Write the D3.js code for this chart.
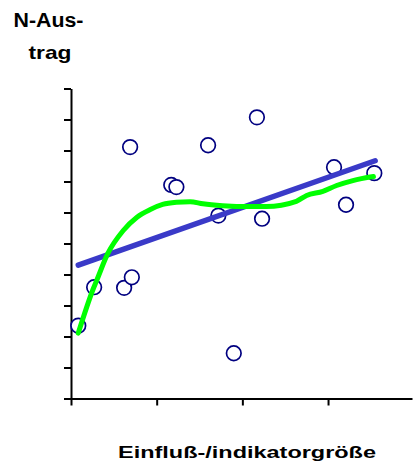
<!DOCTYPE html>
<html>
<head>
<meta charset="utf-8">
<script src="https://cdn.jsdelivr.net/npm/d3@7"></script>
<style>
  body { margin: 0; background: #fff; }
  svg { display: block; font-family: "Liberation Sans", Arial, sans-serif; }
</style>
</head>
<body>
<div class="chart"></div>
<script>
// scatter points (Einfluß-/Indikatorgröße vs. N-Austrag)
var pointX = [0.085, 0.27, 0.62, 0.71, 0.69, 1.17, 1.23, 1.60, 1.72, 1.90, 2.17, 2.23, 3.07, 3.21, 3.54];
var pointY = [2.35, 3.59, 3.57, 3.91, 8.11, 6.89, 6.82, 8.17, 5.90, 1.46, 9.07, 5.80, 7.46, 6.25, 7.27];

// linear regression line (end points)
var lineX = [0.085, 3.55];
var lineY = [4.30, 7.67];

// smoothed curve
var curveX = [0.085, 0.26, 0.30, 0.43, 0.61, 0.77, 0.92, 1.07, 1.23, 1.39, 1.54, 1.77, 2.09, 2.28, 2.63, 2.75, 2.94, 3.10, 3.29, 3.53];
var curveY = [2.11, 3.54, 3.81, 4.68, 5.42, 5.85, 6.09, 6.26, 6.33, 6.35, 6.28, 6.22, 6.19, 6.19, 6.36, 6.55, 6.68, 6.87, 7.03, 7.16];

var xTicks = [0, 1, 2, 3];
var yTicks = [0, 1, 2, 3, 4, 5, 6, 7, 8, 9, 10];

var width = 413,
    height = 466;

var x = d3.scaleLinear()
    .domain([0, 3.98])
    .range([71, 412]);

var y = d3.scaleLinear()
    .domain([0, 10])
    .range([398.5, 88.5]);

var svg = d3.select(".chart")
    .append("svg")
    .attr("width", width)
    .attr("height", height);

// axes
svg.append("g")
    .attr("transform", "translate(0," + y(0) + ")")
    .call(d3.axisBottom(x).tickValues(xTicks).tickSize(7).tickSizeOuter(0).tickFormat(""));

svg.append("g")
    .attr("transform", "translate(" + x(0) + ",0)")
    .call(d3.axisLeft(y).tickValues(yTicks).tickSize(7).tickSizeOuter(0).tickFormat(""));

svg.selectAll(".domain, .tick line")
    .attr("stroke", "#000")
    .attr("stroke-width", 2);

// points
var points = pointX.map(function(d, i) { return [d, pointY[i]]; });

svg.append("g")
    .selectAll("circle")
    .data(points)
    .enter().append("circle")
    .attr("cx", function(d) { return x(d[0]); })
    .attr("cy", function(d) { return y(d[1]); })
    .attr("r", 7.3)
    .attr("fill", "#fff")
    .attr("stroke", "#000080")
    .attr("stroke-width", 1.7);

// regression line
var regLine = lineX.map(function(d, i) { return [d, lineY[i]]; });
var line = d3.line()
    .x(function(d) { return x(d[0]); })
    .y(function(d) { return y(d[1]); });

svg.append("path")
    .datum(regLine)
    .attr("d", line)
    .attr("fill", "none")
    .attr("stroke", "#3a3ac8")
    .attr("stroke-width", 5.5)
    .attr("stroke-linecap", "round");

// smoothed curve
var curve = curveX.map(function(d, i) { return [d, curveY[i]]; });

svg.append("path")
    .datum(curve)
    .attr("d", line.curve(d3.curveMonotoneX))
    .attr("fill", "none")
    .attr("stroke", "#00ff00")
    .attr("stroke-width", 5)
    .attr("stroke-linecap", "round")
    .attr("stroke-linejoin", "round");

// y-axis label (glyphs stretched wide like the original)
svg.append("text")
    .attr("x", 13.5)
    .attr("y", 26.7)
    .attr("font-size", 19.5)
    .attr("font-weight", "bold")
    .attr("textLength", 70)
    .attr("lengthAdjust", "spacingAndGlyphs")
    .text("N-Aus-");

svg.append("text")
    .attr("x", 28.5)
    .attr("y", 59)
    .attr("font-size", 19)
    .attr("font-weight", "bold")
    .attr("textLength", 43)
    .attr("lengthAdjust", "spacingAndGlyphs")
    .text("trag");

// x-axis label
svg.append("text")
    .attr("x", 118)
    .attr("y", 457.5)
    .attr("font-size", 16.5)
    .attr("font-weight", "bold")
    .attr("textLength", 258)
    .attr("lengthAdjust", "spacingAndGlyphs")
    .text("Einfluß-/indikatorgröße");
</script>
</body>
</html>
